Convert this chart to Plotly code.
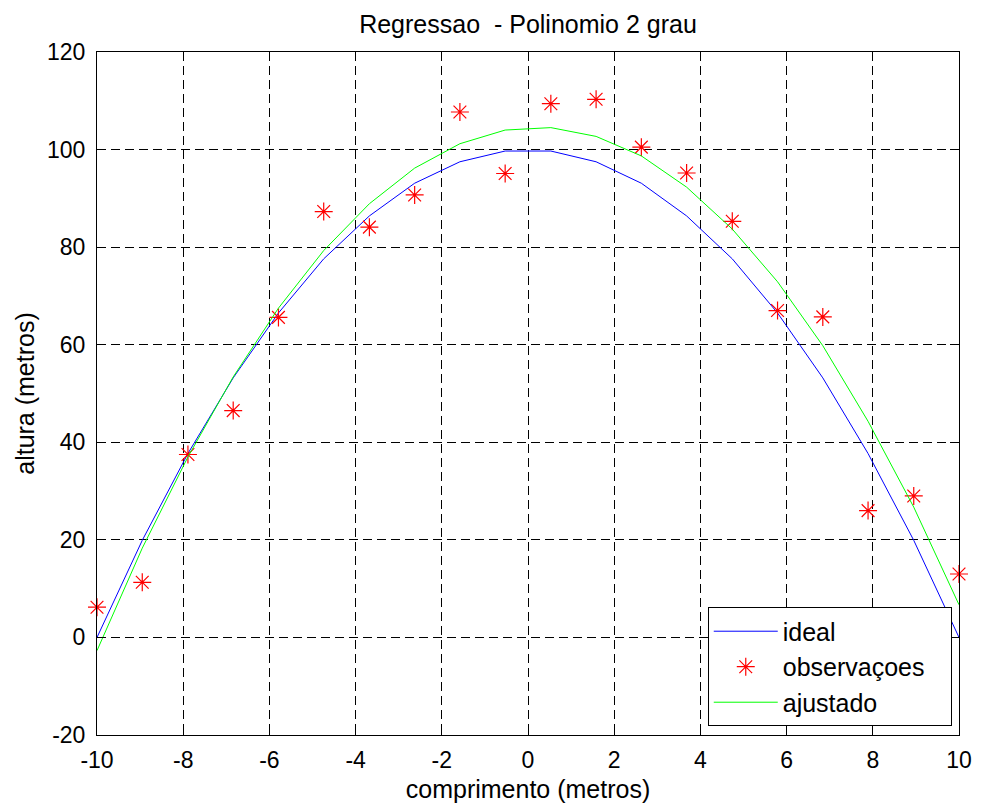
import plotly.graph_objects as go

# sample positions along the beam (metres)
comprimento = [-10, -8.95, -7.89, -6.84, -5.79, -4.74, -3.68, -2.63, -1.58, -0.53,
               0.53, 1.58, 2.63, 3.68, 4.74, 5.79, 6.84, 7.89, 8.95, 10]

# ideal parabola, noisy observations and the fitted 2nd-degree polynomial
ideal = [0, 19.9, 37.7, 53.2, 66.5, 77.6, 86.4, 93.1, 97.5, 99.7,
         99.7, 97.5, 93.1, 86.4, 77.6, 66.5, 53.2, 37.7, 19.9, 0]
observacoes = [6.2, 11.3, 37.5, 46.5, 65.6, 87.3, 84.1, 90.7, 107.7, 95.1,
               109.4, 110.3, 100.5, 95.2, 85.3, 67.0, 65.7, 26.0, 29.0, 13.0]
ajustado = [-2.7, 18.3, 37.0, 53.4, 67.5, 79.3, 88.9, 96.2, 101.2, 104.0,
            104.5, 102.7, 98.7, 92.3, 83.7, 72.9, 59.8, 44.3, 26.7, 6.7]

x_ticks = [-10, -8, -6, -4, -2, 0, 2, 4, 6, 8, 10]
x_labels = ["-10", "-8", "-6", "-4", "-2", "0", "2", "4", "6", "8", "10"]
y_ticks = [-20, 0, 20, 40, 60, 80, 100, 120]
y_labels = ["-20", "0", "20", "40", "60", "80", "100", "120"]

FONT = "Liberation Sans, Arial, Helvetica, sans-serif"
PAD = "\u00a0" * 3  # extra room on the right side of the legend box

fig = go.Figure()
fig.add_trace(go.Scatter(x=comprimento, y=ideal, mode="lines", name="ideal",
                         line=dict(color="#0000ff", width=1)))
fig.add_trace(go.Scatter(x=comprimento, y=observacoes, mode="markers",
                         name="observaçoes" + PAD, cliponaxis=False,
                         marker=dict(symbol="asterisk-open", size=15, color="#ff0000",
                                     line=dict(color="#ff0000", width=1.2))))
fig.add_trace(go.Scatter(x=comprimento, y=ajustado, mode="lines", name="ajustado",
                         line=dict(color="#00ff00", width=1)))

axis_common = dict(
    showline=True, linecolor="black", linewidth=1, mirror="ticks",
    ticks="inside", ticklen=9, tickcolor="black", tickwidth=1,
    showgrid=True, gridcolor="black", gridwidth=1, griddash="9px,5px",
    zeroline=False, tickfont=dict(family=FONT, size=23, color="black"),
)

fig.update_layout(
    width=984, height=810,
    margin=dict(l=97, r=19, t=52, b=72),
    paper_bgcolor="white", plot_bgcolor="white",
    font=dict(family=FONT, color="black"),
    title=dict(text="Regressao  - Polinomio 2 grau", x=0.5, xref="paper",
               y=1 - 24.5 / 810, yref="container", yanchor="middle", xanchor="center",
               font=dict(family=FONT, size=25, color="black")),
    xaxis=dict(range=[-10, 10], tickvals=x_ticks, ticktext=x_labels, ticklabelstandoff=4,
               title=dict(text="comprimento (metros)", standoff=8,
                          font=dict(family=FONT, size=25, color="black")),
               **axis_common),
    yaxis=dict(range=[-20, 120], tickvals=y_ticks, ticktext=y_labels, ticklabelstandoff=6,
               title=dict(text="altura (metros)", standoff=5,
                          font=dict(family=FONT, size=25, color="black")),
               **axis_common),
    showlegend=True,
    legend=dict(x=0.9916, y=0.0125, xanchor="right", yanchor="bottom",
                bgcolor="white", bordercolor="black", borderwidth=1,
                itemwidth=64, font=dict(family=FONT, size=25, color="black"),
                tracegroupgap=0),
)

fig.write_html("out.html")
